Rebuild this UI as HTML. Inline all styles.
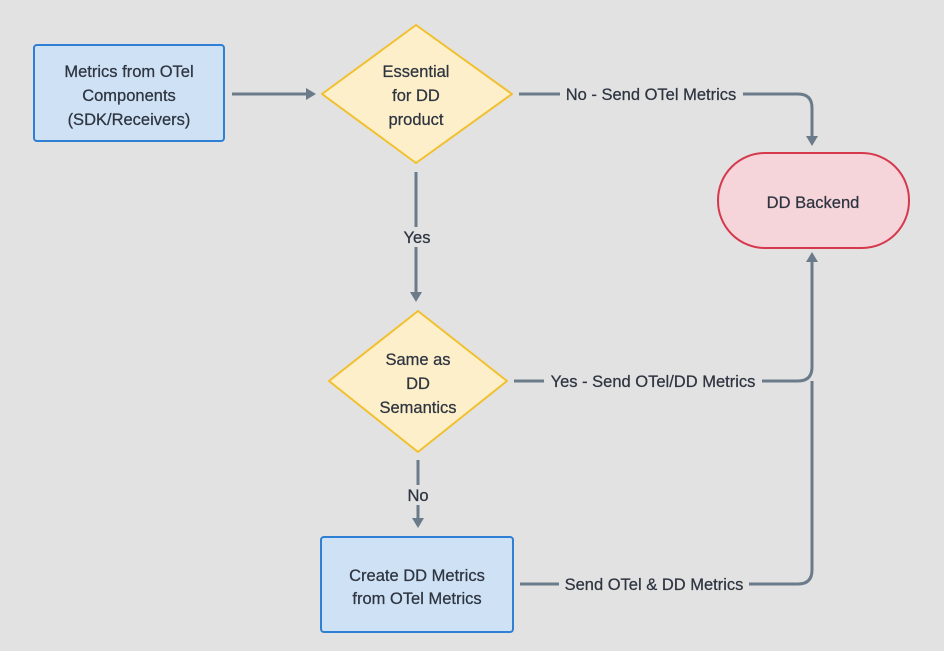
<!DOCTYPE html>
<html><head><meta charset="utf-8"><style>
html,body{margin:0;padding:0;background:#e2e2e2;}
svg{display:block;font-family:"Liberation Sans",sans-serif;}
text{fill:#2e3440;font-size:16.5px;text-anchor:middle;stroke:#2e3440;stroke-width:0.25px;}
</style></head><body>
<svg width="944" height="651" viewBox="0 0 944 651">
<rect width="944" height="651" fill="#e2e2e2"/>
<g stroke="#6b7b8a" stroke-width="3" fill="none">
<line x1="232" y1="94" x2="306" y2="94"/>
<path d="M519 94 H798 Q812 94 812 108 V136"/>
<line x1="416" y1="172" x2="416" y2="292"/>
<path d="M514 381 H798 Q812 381 812 367 V262"/>
<line x1="418" y1="460" x2="418" y2="518"/>
<path d="M520 584 H798 Q812 584 812 570 V381"/>
</g>
<g fill="#6b7b8a">
<polygon points="306,88 316,94 306,100"/>
<polygon points="806,136 818,136 812,146"/>
<polygon points="410,292 422,292 416,302"/>
<polygon points="806,262 818,262 812,252"/>
<polygon points="412,518 424,518 418,528"/>
</g>
<rect x="34" y="45" width="190" height="96" rx="3" fill="#cfe2f5" stroke="#2f7fd4" stroke-width="2"/>
<text x="129" y="77">Metrics from OTel</text>
<text x="129" y="101">Components</text>
<text x="129" y="125">(SDK/Receivers)</text>
<polygon points="416,25 512,94 416,163 322,94" fill="#fcefca" stroke="#f2c02e" stroke-width="2" stroke-linejoin="round"/>
<text x="416" y="77">Essential</text>
<text x="416" y="101">for DD</text>
<text x="416" y="125">product</text>
<rect x="718" y="153" width="191" height="95" rx="47" fill="#f5d5da" stroke="#d6394e" stroke-width="2"/>
<text x="813" y="208">DD Backend</text>
<polygon points="418,311 507,381 418,452 329,381" fill="#fcefca" stroke="#f2c02e" stroke-width="2" stroke-linejoin="round"/>
<text x="418" y="365">Same as</text>
<text x="418" y="389">DD</text>
<text x="418" y="413">Semantics</text>
<rect x="321" y="537" width="192" height="95" rx="3" fill="#cfe2f5" stroke="#2f7fd4" stroke-width="2"/>
<text x="417" y="581">Create DD Metrics</text>
<text x="417" y="604">from OTel Metrics</text>
<g>
<rect x="560" y="84" width="183" height="20" fill="#e2e2e2"/>
<text x="651" y="100">No - Send OTel Metrics</text>
<rect x="403" y="227" width="28" height="20" fill="#e2e2e2"/>
<text x="417" y="243">Yes</text>
<rect x="544" y="371" width="218" height="20" fill="#e2e2e2"/>
<text x="653" y="387">Yes - Send OTel/DD Metrics</text>
<rect x="406" y="485" width="24" height="20" fill="#e2e2e2"/>
<text x="418" y="501">No</text>
<rect x="559" y="574" width="190" height="20" fill="#e2e2e2"/>
<text x="654" y="590">Send OTel &amp; DD Metrics</text>
</g>
</svg>
</body></html>
